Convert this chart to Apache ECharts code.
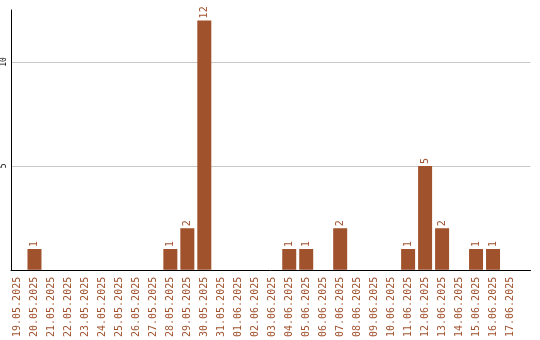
<!DOCTYPE html>
<html><head><meta charset="utf-8">
<script src="https://cdn.jsdelivr.net/npm/echarts@6/dist/echarts.min.js"></script>
<style>html,body{margin:0;padding:0;background:#fff}#c{width:540px;height:340px}</style>
</head><body><div id="c"></div>
<script>
const categories = ["19.05.2025","20.05.2025","21.05.2025","22.05.2025","23.05.2025","24.05.2025","25.05.2025","26.05.2025","27.05.2025","28.05.2025","29.05.2025","30.05.2025","31.05.2025","01.06.2025","02.06.2025","03.06.2025","04.06.2025","05.06.2025","06.06.2025","07.06.2025","08.06.2025","09.06.2025","10.06.2025","11.06.2025","12.06.2025","13.06.2025","14.06.2025","15.06.2025","16.06.2025","17.06.2025"];
const values = [0,1,0,0,0,0,0,0,0,1,2,12,0,0,0,0,1,1,0,2,0,0,0,1,5,2,0,1,1,0];
const yTicks = [5,10];

const idx = categories.map((c,i)=>i);
const chart = echarts.init(document.getElementById('c'), null, {renderer:'canvas'});
const C = '#A0522D';
const font = 'DejaVu Sans Mono';
chart.setOption({
  animation:false,
  backgroundColor:'#fff',
  grid:{left:10.5, top:10, width:520, height:260, containLabel:false},
  xAxis:{type:'value', min:-0.382, max:30.206,
    axisLine:{show:true, onZero:false, lineStyle:{color:'#000', width:1}},
    axisTick:{show:false},
    splitLine:{show:false},
    axisLabel:{customValues: idx, rotate:90, margin:7, color:C, fontFamily:font, fontSize:10,
      formatter:(v)=>categories[Math.round(v)] || ''}
  },
  yAxis:{type:'value', min:0, max:12.5, interval:5,
    axisLine:{show:true, onZero:false, lineStyle:{color:'#000', width:1}},
    axisTick:{show:false, customValues: yTicks},
    splitLine:{show:true, lineStyle:{color:'#c8c8c8', width:1}},
    axisLabel:{customValues: yTicks, rotate:90, margin:3, color:'#000', fontFamily:font, fontSize:8}
  },
  series:[{type:'bar', barWidth:14, itemStyle:{color:C},
    data: idx.map(i=>[i, values[i]]),
    label:{show:true, position:'top', rotate:90, align:'left', verticalAlign:'middle', distance:2,
      color:C, fontFamily:font, fontSize:10,
      formatter:(p)=> p.value[1] ? String(p.value[1]) : ''}
  }]
});
</script></body></html>
